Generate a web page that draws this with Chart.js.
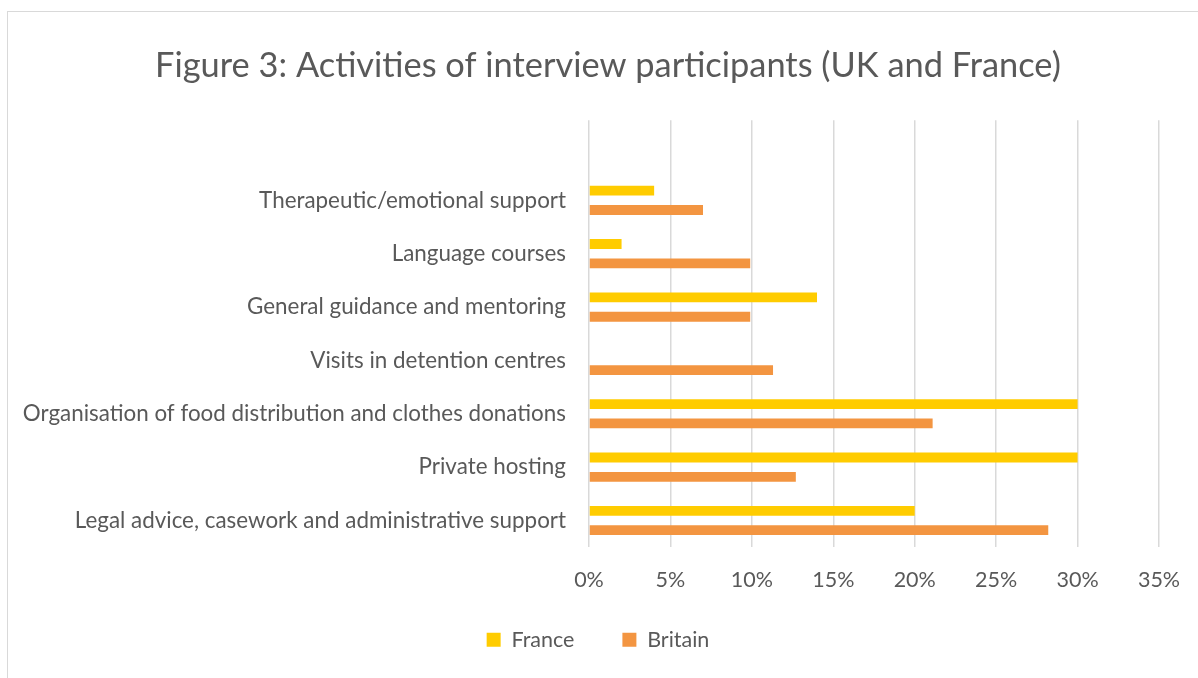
<!DOCTYPE html>
<html lang="en">
<head>
  <meta charset="UTF-8" />
  <title>Figure 3</title>
  <script src="https://cdn.jsdelivr.net/npm/chart.js"></script>
  <style>
    body {
      margin: 0;
      background: #fff;
      overflow: hidden;
      font-family: Lato, sans-serif;
    }

    .frame {
      position: absolute;
      left: 7px;
      top: 11px;
      width: 1300px;
      height: 800px;
      border-top: 1.5px solid #d9d9d9;
      border-left: 1.5px solid #d9d9d9;
    }

    .chart-box {
      position: absolute;
      left: 8px;
      top: 12px;
      width: 1190px;
      height: 666px;
    }
  </style>
</head>
<body>
  <div class="frame"></div>
  <div class="chart-box">
    <canvas id="grafico"></canvas>
  </div>

  <script>
    // first slot stays empty, as in the original chart
    const atividades = [
      "",
      "Therapeutic/emotional support",
      "Language courses",
      "General guidance and mentoring",
      "Visits in detention centres",
      "Organisation of food distribution and clothes donations",
      "Private hosting",
      "Legal advice, casework and administrative support"
    ];
    const franca = [null, 4, 2, 14, 0, 30, 30, 20];
    const britanica = [null, 7.0, 9.9, 9.9, 11.3, 21.1, 12.7, 28.2];
    const ticksX = [0, 5, 10, 15, 20, 25, 30, 35];

    const cinza = "#595959";

    // legend sits a bit higher and further left than Chart.js puts it
    // (only the top moves up, so nothing gets clipped)
    const moverLegenda = {
      id: "moverLegenda",
      afterLayout(chart) {
        chart.legend.top -= 32;
        chart.legend.left -= 10;
        chart.legend.right -= 10;
      }
    };

    new Chart(document.getElementById("grafico"), {
      type: "bar",
      data: {
        labels: atividades,
        datasets: [
          {
            label: "France",
            data: franca,
            backgroundColor: "#FFCC00",
            categoryPercentage: 0.724,
            barPercentage: 0.51
          },
          {
            label: "Britain",
            data: britanica,
            backgroundColor: "#F39541",
            categoryPercentage: 0.724,
            barPercentage: 0.51
          }
        ]
      },
      options: {
        indexAxis: "y",
        responsive: true,
        maintainAspectRatio: false,
        animation: false,
        layout: {
          padding: { left: 10, right: 0, top: 12, bottom: 18 }
        },
        plugins: {
          title: {
            display: true,
            text: "Figure 3: Activities of interview participants (UK and France)",
            color: cinza,
            font: { family: "Lato", size: 34.4, weight: "normal" },
            padding: { top: 21, bottom: 34 }
          },
          legend: {
            position: "bottom",
            maxHeight: 47,
            labels: {
              color: cinza,
              font: { family: "Lato", size: 21.5 },
              boxWidth: 14,
              boxHeight: 14,
              padding: 48
            }
          },
          tooltip: { enabled: false }
        },
        scales: {
          x: {
            min: ticksX[0],
            max: ticksX[ticksX.length - 1],
            afterBuildTicks: escala => {
              escala.ticks = ticksX.map(v => ({ value: v }));
            },
            ticks: {
              color: cinza,
              font: { family: "Lato", size: 21.5 },
              padding: 20,
              callback: valor => valor + "%"
            },
            grid: { color: "#d9d9d9", lineWidth: 1.5, drawTicks: false },
            border: { display: false },
            afterFit: escala => { escala.paddingRight = 39; }
          },
          y: {
            ticks: {
              color: cinza,
              font: { family: "Lato", size: 22.4 },
              padding: 15
            },
            grid: { display: false },
            border: { display: false },
            afterFit: escala => { escala.width = 571; }
          }
        }
      },
      plugins: [moverLegenda]
    });
  </script>
</body>
</html>
